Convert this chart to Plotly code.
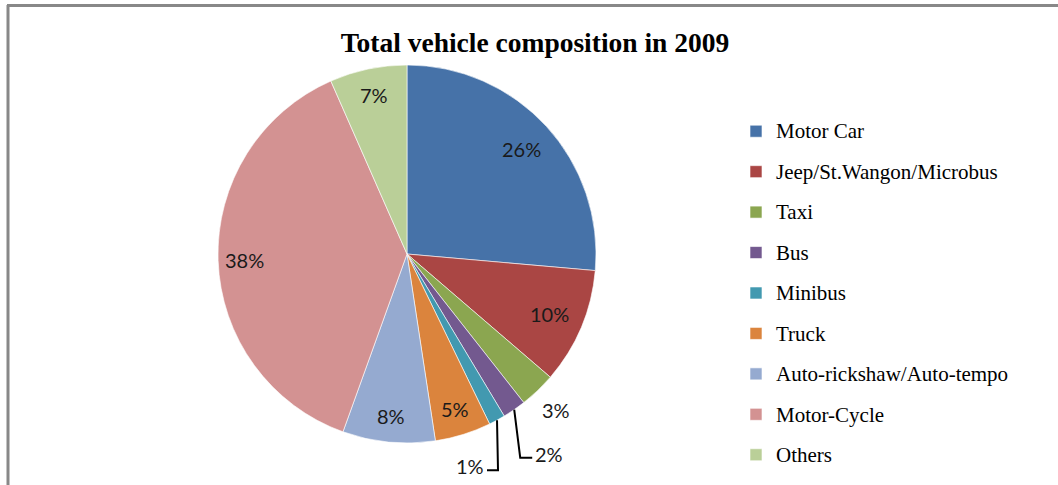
import math
import plotly.graph_objects as go

# ---- data ----
categories = ["Motor Car", "Jeep/St.Wangon/Microbus", "Taxi", "Bus", "Minibus",
              "Truck", "Auto-rickshaw/Auto-tempo", "Motor-Cycle", "Others"]
shares = [26.4, 9.9, 3.1, 2.0, 1.4, 4.8, 7.9, 37.9, 6.6]
colors = ["#4672A8", "#AA4644", "#8BA650", "#73598F", "#4299B0",
          "#DB843D", "#95AAD0", "#D39292", "#BACF98"]
title_text = "Total vehicle composition in 2009"

W, H = 1058, 485
CX, CY, R = 407, 254, 189


def px(x):
    return x / W


def py(y):
    return 1 - y / H


legend_labels = ['<span style="font-size:21px;baseline-shift:4px">%s</span>' % c for c in categories]

fig = go.Figure(go.Pie(
    labels=legend_labels,
    values=shares,
    sort=False,
    direction="clockwise",
    rotation=0,
    marker=dict(colors=colors, line=dict(color="white", width=0.6)),
    textinfo="none",
    hoverinfo="skip",
    domain=dict(x=[px(CX - R), px(CX + R)], y=[py(CY + R), py(CY - R)]),
))

# percentage labels computed from the data
total = sum(shares)
cum = 0.0
annotations = []
shapes = []
label_font = dict(family="Lato, Calibri, sans-serif", size=20, color="#1a1a1a")


def add_label(x, y, txt, xanchor="center"):
    annotations.append(dict(x=px(x), y=py(y), text=txt, xanchor=xanchor, yanchor="middle",
                            showarrow=False, font=label_font, xref="paper", yref="paper"))


for i, v in enumerate(shares):
    mid = (cum + v / 2) / total * 2 * math.pi
    cum += v
    txt = "%d%%" % round(v / total * 100)
    sx, sy = math.sin(mid), -math.cos(mid)
    if v >= 4:
        f = 0.82 if i < 2 else 0.86
        add_label(CX + f * R * sx, CY + f * R * sy, txt)
    elif i == 2:
        add_label(CX + 1.14 * R * sx, CY + 1.14 * R * sy, txt)
    else:
        ex, ey = CX + R * sx, CY + R * sy
        if i == 3:
            bx, by = ex + 6, ey + 48
            hx = bx + 12
            add_label(hx + 1, by - 4, txt, "left")
        else:
            bx, by = ex + 1, ey + 50
            hx = bx - 11
            add_label(hx - 1, by - 4, txt, "right")
        shapes.append(dict(type="path", xref="paper", yref="paper",
                           path="M%f,%f L%f,%f L%f,%f" % (px(ex), py(ey), px(bx), py(by), px(hx), py(by)),
                           line=dict(color="black", width=2)))

# outer frame (left and top edges visible)
shapes.append(dict(type="line", xref="paper", yref="paper", x0=px(8), x1=px(8), y0=py(5), y1=0,
                   line=dict(color="#888888", width=3)))
shapes.append(dict(type="line", xref="paper", yref="paper", x0=px(7), x1=1, y0=py(5.5), y1=py(5.5),
                   line=dict(color="#888888", width=3)))

fig.update_layout(
    width=W, height=H,
    margin=dict(l=0, r=0, t=0, b=0),
    paper_bgcolor="white",
    plot_bgcolor="white",
    title=dict(text="<b>%s</b>" % title_text, x=px(535), xanchor="center",
               y=py(42), yanchor="middle",
               font=dict(family="Liberation Serif, Times New Roman, serif", size=27.5, color="black")),
    showlegend=True,
    legend=dict(x=px(736), xanchor="left", y=py(106), yanchor="top",
                font=dict(family="Liberation Serif, Times New Roman, serif", size=28.8, color="black"),
                bgcolor="rgba(0,0,0,0)", itemclick=False),
    annotations=annotations,
    shapes=shapes,
)

fig.write_html("out.html", config={"displayModeBar": False},
               post_script="document.body.style.margin='0';document.body.style.overflow='hidden';")
